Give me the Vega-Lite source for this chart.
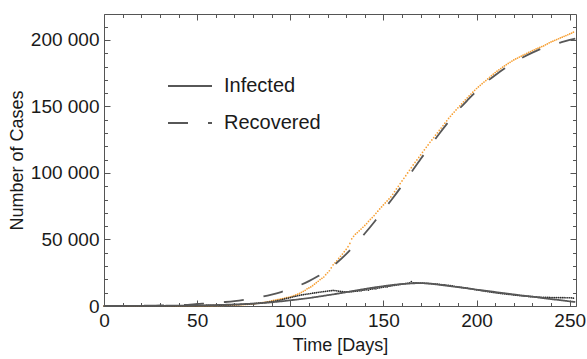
{
  "$schema": "https://vega.github.io/schema/vega-lite/v6.json",
  "width": 472,
  "height": 292,
  "autosize": {"type": "none"},
  "padding": {"left": 104, "top": 14, "right": 11, "bottom": 53},
  "background": "white",
  "config": {
    "view": {"stroke": null},
    "font": "Liberation Sans",
    "axis": {
      "grid": false,
      "domainColor": "#555555",
      "domainWidth": 1,
      "tickColor": "#555555",
      "tickWidth": 1,
      "labelFont": "Liberation Sans",
      "labelFontSize": 19,
      "labelColor": "#1a1a1a",
      "labelOverlap": false,
      "labelFlush": false,
      "labelBound": false,
      "titleFont": "Liberation Sans",
      "titleFontSize": 18,
      "titleFontWeight": "normal",
      "titleColor": "#1a1a1a"
    },
    "legend": {
      "labelFont": "Liberation Sans",
      "labelFontSize": 20,
      "labelColor": "#1a1a1a"
    }
  },
  "datasets": {
    "obs": [
      {"t":0,"i":0,"r":0},{"t":1,"i":0,"r":0},{"t":2,"i":0,"r":0},{"t":3,"i":0,"r":0},{"t":4,"i":0,"r":0},
      {"t":5,"i":0,"r":0},{"t":6,"i":0,"r":0},{"t":7,"i":0,"r":0},{"t":8,"i":0,"r":0},{"t":9,"i":0,"r":0},
      {"t":10,"i":0,"r":0},{"t":11,"i":0,"r":0},{"t":12,"i":1,"r":1},{"t":13,"i":1,"r":1},{"t":14,"i":2,"r":1},
      {"t":15,"i":2,"r":2},{"t":16,"i":3,"r":2},{"t":17,"i":4,"r":3},{"t":18,"i":5,"r":3},{"t":19,"i":6,"r":4},
      {"t":20,"i":7,"r":5},{"t":21,"i":9,"r":6},{"t":22,"i":11,"r":7},{"t":23,"i":13,"r":8},{"t":24,"i":15,"r":10},
      {"t":25,"i":18,"r":12},{"t":26,"i":21,"r":14},{"t":27,"i":24,"r":16},{"t":28,"i":28,"r":19},{"t":29,"i":32,"r":22},
      {"t":30,"i":36,"r":25},{"t":31,"i":41,"r":29},{"t":32,"i":46,"r":33},{"t":33,"i":52,"r":38},{"t":34,"i":58,"r":43},
      {"t":35,"i":65,"r":48},{"t":36,"i":72,"r":54},{"t":37,"i":80,"r":60},{"t":38,"i":89,"r":67},{"t":39,"i":98,"r":75},
      {"t":40,"i":108,"r":83},{"t":41,"i":119,"r":92},{"t":42,"i":131,"r":101},{"t":43,"i":144,"r":111},{"t":44,"i":158,"r":122},
      {"t":45,"i":173,"r":134},{"t":46,"i":189,"r":146},{"t":47,"i":206,"r":159},{"t":48,"i":224,"r":173},{"t":49,"i":243,"r":188},
      {"t":50,"i":263,"r":204},{"t":51,"i":285,"r":221},{"t":52,"i":308,"r":239},{"t":53,"i":332,"r":258},{"t":54,"i":357,"r":278},
      {"t":55,"i":384,"r":299},{"t":56,"i":412,"r":321},{"t":57,"i":441,"r":344},{"t":58,"i":472,"r":368},{"t":59,"i":505,"r":393},
      {"t":60,"i":540,"r":420},{"t":61,"i":580,"r":448},{"t":62,"i":610,"r":477},{"t":63,"i":650,"r":508},{"t":64,"i":700,"r":540},
      {"t":65,"i":740,"r":574},{"t":66,"i":790,"r":610},{"t":67,"i":830,"r":647},{"t":68,"i":880,"r":686},{"t":69,"i":940,"r":727},
      {"t":70,"i":990,"r":780},{"t":71,"i":1050,"r":830},{"t":72,"i":1110,"r":880},{"t":73,"i":1180,"r":940},{"t":74,"i":1250,"r":1000},
      {"t":75,"i":1320,"r":1070},{"t":76,"i":1400,"r":1150},{"t":77,"i":1480,"r":1250},{"t":78,"i":1570,"r":1370},{"t":79,"i":1660,"r":1480},
      {"t":80,"i":1760,"r":1600},{"t":81,"i":1860,"r":1730},{"t":82,"i":1980,"r":1880},{"t":83,"i":2100,"r":2070},{"t":84,"i":2250,"r":2300},
      {"t":85,"i":2400,"r":2500},{"t":86,"i":2550,"r":2720},{"t":87,"i":2720,"r":2950},{"t":88,"i":2900,"r":3200},{"t":89,"i":3080,"r":3480},
      {"t":90,"i":3280,"r":3850},{"t":91,"i":3500,"r":4200},{"t":92,"i":3750,"r":4500},{"t":93,"i":4000,"r":4800},{"t":94,"i":4300,"r":5050},
      {"t":95,"i":4600,"r":5300},{"t":96,"i":4950,"r":5600},{"t":97,"i":5300,"r":5950},{"t":98,"i":5650,"r":6300},{"t":99,"i":6000,"r":6550},
      {"t":100,"i":6350,"r":6800},{"t":101,"i":6700,"r":7300},{"t":102,"i":7050,"r":7800},{"t":103,"i":7400,"r":8400},{"t":104,"i":7700,"r":8900},
      {"t":105,"i":8000,"r":9500},{"t":106,"i":8300,"r":10300},{"t":107,"i":8550,"r":11000},{"t":108,"i":8800,"r":11800},{"t":109,"i":9000,"r":12900},
      {"t":110,"i":9200,"r":13600},{"t":111,"i":9400,"r":14300},{"t":112,"i":9600,"r":15300},{"t":113,"i":9850,"r":16400},{"t":114,"i":10050,"r":17500},
      {"t":115,"i":10250,"r":18600},{"t":116,"i":10450,"r":19900},{"t":117,"i":10650,"r":20800},{"t":118,"i":10850,"r":21800},{"t":119,"i":11050,"r":23500},
      {"t":120,"i":11250,"r":25000},{"t":121,"i":11400,"r":26500},{"t":122,"i":11550,"r":28700},{"t":123,"i":11700,"r":31000},{"t":124,"i":11600,"r":32500},
      {"t":125,"i":11400,"r":34000},{"t":126,"i":11150,"r":35800},{"t":127,"i":10950,"r":37400},{"t":128,"i":10800,"r":39000},{"t":129,"i":10700,"r":40800},
      {"t":130,"i":10650,"r":42500},{"t":131,"i":10650,"r":44600},{"t":132,"i":10700,"r":47000},{"t":133,"i":10800,"r":50500},{"t":134,"i":10950,"r":52400},
      {"t":135,"i":11100,"r":54000},{"t":136,"i":11250,"r":55200},{"t":137,"i":11450,"r":56500},{"t":138,"i":11400,"r":57800},{"t":139,"i":11850,"r":59200},
      {"t":140,"i":12050,"r":60600},{"t":141,"i":12250,"r":62000},{"t":142,"i":12000,"r":63600},{"t":143,"i":12650,"r":65100},{"t":144,"i":12850,"r":66500},
      {"t":145,"i":13050,"r":68000},{"t":146,"i":12900,"r":69700},{"t":147,"i":13450,"r":71300},{"t":148,"i":13700,"r":73000},{"t":149,"i":13950,"r":74500},
      {"t":150,"i":14200,"r":76000},{"t":151,"i":14400,"r":77500},{"t":152,"i":14300,"r":79000},{"t":153,"i":14900,"r":80500},{"t":154,"i":15100,"r":82000},
      {"t":155,"i":15350,"r":84000},{"t":156,"i":15550,"r":86000},{"t":157,"i":15800,"r":88000},{"t":158,"i":16000,"r":90000},{"t":159,"i":16250,"r":92000},
      {"t":160,"i":16450,"r":94000},{"t":161,"i":16650,"r":96000},{"t":162,"i":16850,"r":98000},{"t":163,"i":17050,"r":100000},{"t":164,"i":17300,"r":102000},
      {"t":165,"i":18300,"r":104000},{"t":166,"i":17400,"r":106000},{"t":167,"i":17350,"r":107900},{"t":168,"i":17300,"r":109800},{"t":169,"i":17250,"r":111700},
      {"t":170,"i":17200,"r":113600},{"t":171,"i":17250,"r":115500},{"t":172,"i":17100,"r":117400},{"t":173,"i":17050,"r":119300},{"t":174,"i":16950,"r":121100},
      {"t":175,"i":16850,"r":123000},{"t":176,"i":16800,"r":124800},{"t":177,"i":16650,"r":126600},{"t":178,"i":16500,"r":128400},{"t":179,"i":16400,"r":130200},
      {"t":180,"i":16250,"r":132000},{"t":181,"i":16100,"r":133800},{"t":182,"i":15950,"r":135600},{"t":183,"i":15800,"r":137400},{"t":184,"i":15600,"r":139200},
      {"t":185,"i":15450,"r":141000},{"t":186,"i":15250,"r":142600},{"t":187,"i":15050,"r":144200},{"t":188,"i":14850,"r":145800},{"t":189,"i":14650,"r":147400},
      {"t":190,"i":14450,"r":149000},{"t":191,"i":14250,"r":150500},{"t":192,"i":14000,"r":152000},{"t":193,"i":13800,"r":153500},{"t":194,"i":13550,"r":155000},
      {"t":195,"i":13350,"r":156500},{"t":196,"i":13100,"r":157900},{"t":197,"i":12900,"r":159300},{"t":198,"i":12650,"r":160700},{"t":199,"i":12400,"r":162100},
      {"t":200,"i":12200,"r":163500},{"t":201,"i":11950,"r":164700},{"t":202,"i":11750,"r":165900},{"t":203,"i":11500,"r":167100},{"t":204,"i":11300,"r":168300},
      {"t":205,"i":11050,"r":169500},{"t":206,"i":10850,"r":170700},{"t":207,"i":10650,"r":171900},{"t":208,"i":10400,"r":173100},{"t":209,"i":10200,"r":174300},
      {"t":210,"i":10000,"r":175500},{"t":211,"i":9850,"r":176500},{"t":212,"i":9650,"r":177500},{"t":213,"i":9450,"r":178500},{"t":214,"i":9300,"r":179500},
      {"t":215,"i":9150,"r":180500},{"t":216,"i":8950,"r":181400},{"t":217,"i":8800,"r":182300},{"t":218,"i":8650,"r":183200},{"t":219,"i":8500,"r":184100},
      {"t":220,"i":8300,"r":185000},{"t":221,"i":8150,"r":185700},{"t":222,"i":8000,"r":186400},{"t":223,"i":7850,"r":187100},{"t":224,"i":7700,"r":187800},
      {"t":225,"i":7600,"r":188500},{"t":226,"i":7450,"r":189200},{"t":227,"i":7350,"r":189900},{"t":228,"i":7200,"r":190600},{"t":229,"i":7100,"r":191300},
      {"t":230,"i":7000,"r":192000},{"t":231,"i":6900,"r":192600},{"t":232,"i":6800,"r":193200},{"t":233,"i":6700,"r":193800},{"t":234,"i":6600,"r":194400},
      {"t":235,"i":6550,"r":195000},{"t":236,"i":6500,"r":195500},{"t":237,"i":6450,"r":196300},{"t":238,"i":6400,"r":197000},{"t":239,"i":6400,"r":197800},
      {"t":240,"i":6350,"r":198500},{"t":241,"i":6350,"r":199100},{"t":242,"i":6300,"r":199700},{"t":243,"i":6300,"r":200300},{"t":244,"i":6300,"r":200900},
      {"t":245,"i":6250,"r":201500},{"t":246,"i":6250,"r":202100},{"t":247,"i":6250,"r":202700},{"t":248,"i":6200,"r":203300},{"t":249,"i":6200,"r":203900},
      {"t":250,"i":6200,"r":204500},{"t":251,"i":6150,"r":205100},{"t":252,"i":5900,"r":205800}
    ],
    "fit": [
      {"t":0,"Infected":0,"Recovered":0},
      {"t":5,"Infected":10,"Recovered":20},
      {"t":10,"Infected":25,"Recovered":60},
      {"t":15,"Infected":45,"Recovered":110},
      {"t":20,"Infected":70,"Recovered":180},
      {"t":25,"Infected":100,"Recovered":260},
      {"t":30,"Infected":140,"Recovered":370},
      {"t":35,"Infected":190,"Recovered":500},
      {"t":40,"Infected":250,"Recovered":680},
      {"t":45,"Infected":330,"Recovered":900},
      {"t":50,"Infected":430,"Recovered":1500},
      {"t":55,"Infected":560,"Recovered":1900},
      {"t":60,"Infected":720,"Recovered":2400},
      {"t":65,"Infected":920,"Recovered":3000},
      {"t":70,"Infected":1160,"Recovered":3700},
      {"t":75,"Infected":1450,"Recovered":4600},
      {"t":80,"Infected":1800,"Recovered":5700},
      {"t":85,"Infected":2250,"Recovered":7000},
      {"t":90,"Infected":2800,"Recovered":8600},
      {"t":95,"Infected":3500,"Recovered":10500},
      {"t":100,"Infected":4300,"Recovered":12800},
      {"t":105,"Infected":5100,"Recovered":15500},
      {"t":110,"Infected":6000,"Recovered":18700},
      {"t":115,"Infected":7000,"Recovered":22500},
      {"t":120,"Infected":8100,"Recovered":27000},
      {"t":125,"Infected":9200,"Recovered":32500},
      {"t":130,"Infected":10400,"Recovered":39000},
      {"t":135,"Infected":11600,"Recovered":46500},
      {"t":140,"Infected":12800,"Recovered":54500},
      {"t":145,"Infected":13900,"Recovered":63000},
      {"t":150,"Infected":14900,"Recovered":72000},
      {"t":155,"Infected":15800,"Recovered":81000},
      {"t":160,"Infected":16500,"Recovered":90500},
      {"t":165,"Infected":17000,"Recovered":100500},
      {"t":170,"Infected":17200,"Recovered":110500},
      {"t":175,"Infected":16800,"Recovered":120000},
      {"t":180,"Infected":16000,"Recovered":129500},
      {"t":185,"Infected":15100,"Recovered":138500},
      {"t":190,"Infected":14200,"Recovered":147000},
      {"t":195,"Infected":13300,"Recovered":154500},
      {"t":200,"Infected":12300,"Recovered":161500},
      {"t":205,"Infected":11400,"Recovered":168000},
      {"t":210,"Infected":10500,"Recovered":173500},
      {"t":215,"Infected":9600,"Recovered":178500},
      {"t":220,"Infected":8700,"Recovered":183000},
      {"t":225,"Infected":7800,"Recovered":187000},
      {"t":230,"Infected":7000,"Recovered":190500},
      {"t":235,"Infected":6100,"Recovered":193500},
      {"t":240,"Infected":5200,"Recovered":196000},
      {"t":245,"Infected":4400,"Recovered":198000},
      {"t":250,"Infected":3500,"Recovered":200000},
      {"t":253,"Infected":3000,"Recovered":201000}
    ]
  },
  "layer": [
    {
      "data": {"name": "obs"},
      "mark": {"type": "point", "filled": true, "size": 3, "color": "#F7A034", "opacity": 1},
      "encoding": {
        "x": {
          "field": "t", "type": "quantitative",
          "scale": {"domain": [0, 253.4], "nice": false, "zero": false},
          "axis": {
            "orient": "bottom",
            "title": "Time [Days]",
            "values": [0,10,20,30,40,50,60,70,80,90,100,110,120,130,140,150,160,170,180,190,200,210,220,230,240,250],
            "labelExpr": "datum.value % 50 === 0 ? datum.label : ''",
            "tickSize": {"condition": {"test": "datum.value % 50 === 0", "value": -6}, "value": -3.5},
            "labelPadding": 11,
            "titlePadding": 4
          }
        },
        "y": {
          "field": "r", "type": "quantitative",
          "scale": {"domain": [0, 219500], "nice": false, "zero": false},
          "axis": {
            "orient": "left",
            "title": "Number of Cases",
            "values": [0,10000,20000,30000,40000,50000,60000,70000,80000,90000,100000,110000,120000,130000,140000,150000,160000,170000,180000,190000,200000,210000],
            "labelExpr": "datum.value % 50000 !== 0 ? '' : (datum.value === 0 ? '0' : (datum.value / 1000) + ' 000')",
            "tickSize": {"condition": {"test": "datum.value % 50000 === 0", "value": -6}, "value": -3.5},
            "labelPadding": 11,
            "titlePadding": 4
          }
        }
      }
    },
    {
      "data": {"name": "obs"},
      "mark": {"type": "point", "filled": true, "size": 3, "color": "#2b2b2b", "opacity": 1},
      "encoding": {
        "x": {"field": "t", "type": "quantitative", "scale": {"domain": [0, 253.4], "nice": false, "zero": false}, "axis": null},
        "y": {"field": "i", "type": "quantitative", "scale": {"domain": [0, 219500], "nice": false, "zero": false}, "axis": null}
      }
    },
    {
      "data": {"name": "fit"},
      "transform": [{"fold": ["Infected", "Recovered"], "as": ["series", "v"]}],
      "mark": {"type": "line", "color": "#575757", "strokeWidth": 1.8, "interpolate": "monotone"},
      "encoding": {
        "x": {
          "field": "t", "type": "quantitative",
          "scale": {"domain": [0, 253.4], "nice": false, "zero": false},
          "axis": {
            "orient": "top", "title": null, "labels": false,
            "values": [0,10,20,30,40,50,60,70,80,90,100,110,120,130,140,150,160,170,180,190,200,210,220,230,240,250],
            "tickSize": {"condition": {"test": "datum.value % 50 === 0", "value": -6}, "value": -3.5}
          }
        },
        "y": {
          "field": "v", "type": "quantitative",
          "scale": {"domain": [0, 219500], "nice": false, "zero": false},
          "axis": {
            "orient": "right", "title": null, "labels": false,
            "values": [0,10000,20000,30000,40000,50000,60000,70000,80000,90000,100000,110000,120000,130000,140000,150000,160000,170000,180000,190000,200000,210000],
            "tickSize": {"condition": {"test": "datum.value % 50000 === 0", "value": -6}, "value": -3.5}
          }
        },
        "strokeDash": {
          "field": "series", "type": "nominal",
          "scale": {"domain": ["Infected", "Recovered"], "range": [[1, 0], [20, 20]]},
          "legend": {
            "orient": "none",
            "legendX": 63,
            "legendY": 62,
            "title": null,
            "symbolType": "stroke",
            "symbolSize": 1936,
            "symbolStrokeWidth": 2,
            "symbolStrokeColor": "#575757",
            "labelOffset": 11,
            "rowPadding": 17,
            "clipHeight": 20
          }
        }
      }
    }
  ],
  "resolve": {"scale": {"x": "independent", "y": "independent"}}
}
